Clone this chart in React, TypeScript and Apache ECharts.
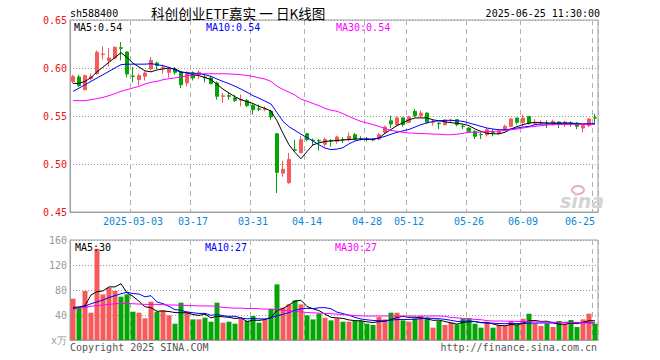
import React, { useEffect, useRef } from "react";
import * as echarts from "echarts";

const dates = [
  "2025-02-17","2025-02-18","2025-02-19","2025-02-20","2025-02-21","2025-02-24","2025-02-25","2025-02-26","2025-02-27","2025-02-28",
  "2025-03-03","2025-03-04","2025-03-05","2025-03-06","2025-03-07","2025-03-10","2025-03-11","2025-03-12","2025-03-13","2025-03-14",
  "2025-03-17","2025-03-18","2025-03-19","2025-03-20","2025-03-21","2025-03-24","2025-03-25","2025-03-26","2025-03-27","2025-03-28",
  "2025-03-31","2025-04-01","2025-04-02","2025-04-03","2025-04-07","2025-04-08","2025-04-09","2025-04-10","2025-04-11",
  "2025-04-14","2025-04-15","2025-04-16","2025-04-17","2025-04-18","2025-04-21","2025-04-22","2025-04-23","2025-04-24","2025-04-25",
  "2025-04-28","2025-04-29","2025-04-30","2025-05-06","2025-05-07","2025-05-08","2025-05-09",
  "2025-05-12","2025-05-13","2025-05-14","2025-05-15","2025-05-16","2025-05-19","2025-05-20","2025-05-21","2025-05-22","2025-05-23",
  "2025-05-26","2025-05-27","2025-05-28","2025-05-29","2025-05-30","2025-06-03","2025-06-04","2025-06-05","2025-06-06",
  "2025-06-09","2025-06-10","2025-06-11","2025-06-12","2025-06-13","2025-06-16","2025-06-17","2025-06-18","2025-06-19","2025-06-20",
  "2025-06-23","2025-06-24","2025-06-25",
];

const tickDates = ["2025-03-03","2025-03-17","2025-03-31","2025-04-14","2025-04-28","2025-05-12","2025-05-26","2025-06-09","2025-06-25"];
const tickLabels = ["2025-03-03","03-17","03-31","04-14","04-28","05-12","05-26","06-09","06-25"];

const open = [
  0.586,0.5906,0.5774,0.589,0.5941,0.614,0.6076,0.6104,0.6212,0.6167,
  0.5916,0.5878,0.5913,0.599,0.6052,0.6005,0.5955,0.599,0.5955,0.5844,
  0.5948,0.593,0.5906,0.5896,0.5844,0.5705,0.5712,0.5688,0.5665,0.566,
  0.5611,0.5575,0.557,0.5549,0.5316,0.4905,0.4805,0.5148,0.5118,0.5316,
  0.5248,0.5243,0.5205,0.5245,0.5236,0.5255,0.5253,0.5305,0.5262,0.5262,
  0.5255,0.526,0.533,0.5451,0.541,0.548,0.5434,0.5548,0.5503,0.553,
  0.5432,0.5425,0.541,0.5452,0.5462,0.5394,0.5375,0.534,0.5307,0.5305,
  0.5331,0.5316,0.5357,0.5392,0.5479,0.5434,0.5496,0.542,0.5427,0.5428,
  0.541,0.5437,0.541,0.5427,0.5427,0.5375,0.54,0.5481,
];
const close = [
  0.591,0.5816,0.592,0.591,0.6163,0.6146,0.6104,0.6215,0.6205,0.5938,
  0.5913,0.592,0.5948,0.608,0.6024,0.601,0.599,0.5955,0.5826,0.594,
  0.5896,0.5955,0.59,0.5837,0.5705,0.571,0.5705,0.5663,0.567,0.5608,
  0.5566,0.557,0.5575,0.549,0.4913,0.4945,0.5048,0.5144,0.5253,0.5253,
  0.5244,0.524,0.5256,0.524,0.5281,0.5252,0.5288,0.526,0.526,0.5258,
  0.525,0.5305,0.5385,0.5416,0.548,0.541,0.549,0.5503,0.553,0.5434,
  0.5436,0.542,0.5455,0.5456,0.541,0.539,0.534,0.5288,0.5305,0.5357,
  0.5329,0.534,0.5392,0.5468,0.5434,0.5479,0.5427,0.5424,0.543,0.5425,
  0.5444,0.5416,0.5437,0.5424,0.5392,0.54,0.5468,0.5478,
];
const low = [
  0.584,0.58,0.5767,0.587,0.5931,0.6087,0.6015,0.609,0.608,0.5903,
  0.585,0.582,0.587,0.5976,0.599,0.594,0.59,0.593,0.579,0.581,
  0.587,0.5885,0.585,0.583,0.567,0.5635,0.567,0.5646,0.56,0.5594,
  0.5514,0.555,0.555,0.546,0.4698,0.4868,0.4795,0.5136,0.5111,0.5236,
  0.5187,0.5142,0.518,0.518,0.5211,0.5218,0.5236,0.5246,0.5246,0.5236,
  0.5236,0.5246,0.5316,0.5375,0.5392,0.539,0.5427,0.549,0.549,0.5427,
  0.54,0.5364,0.54,0.5427,0.5392,0.5364,0.5323,0.526,0.526,0.5288,
  0.5288,0.5305,0.534,0.5385,0.541,0.5392,0.541,0.5406,0.5413,0.5375,
  0.54,0.5375,0.5385,0.539,0.5364,0.533,0.5385,0.5427,
];
const high = [
  0.593,0.593,0.5931,0.594,0.6184,0.6226,0.6208,0.6226,0.627,0.6173,
  0.601,0.594,0.5965,0.6115,0.6066,0.6035,0.601,0.601,0.5965,0.5965,
  0.5965,0.5976,0.593,0.5913,0.586,0.574,0.5747,0.572,0.5726,0.5677,
  0.5629,0.5618,0.56,0.5566,0.5316,0.5032,0.5116,0.5253,0.5291,0.532,
  0.5265,0.526,0.5275,0.526,0.5295,0.528,0.533,0.5323,0.5288,0.5281,
  0.5271,0.5323,0.54,0.5503,0.5496,0.549,0.5503,0.5573,0.5559,0.5538,
  0.5462,0.5434,0.5469,0.547,0.5469,0.541,0.5385,0.535,0.533,0.5375,
  0.5364,0.5357,0.541,0.5479,0.548,0.5514,0.5496,0.5468,0.5455,0.5455,
  0.5462,0.5444,0.545,0.5444,0.5434,0.541,0.5479,0.5524,
];

const ma5 = [
  0.584,0.584,0.586,0.59,0.596,0.601,0.606,0.611,0.616,0.611,
  0.605,0.601,0.597,0.596,0.598,0.599,0.6,0.599,0.596,0.595,
  0.593,0.592,0.59,0.588,0.583,0.578,0.574,0.57,0.567,0.565,
  0.563,0.56,0.558,0.555,0.545,0.532,0.52,0.512,0.5055,0.513,
  0.52,0.522,0.5235,0.524,0.5245,0.525,0.5255,0.526,0.526,0.526,
  0.526,0.527,0.532,0.536,0.54,0.543,0.546,0.548,0.548,0.548,
  0.546,0.545,0.544,0.543,0.5425,0.5415,0.54,0.5365,0.534,0.532,
  0.5315,0.5315,0.533,0.5365,0.539,0.541,0.5425,0.5435,0.543,0.5427,
  0.5427,0.5427,0.5427,0.5427,0.542,0.5415,0.5415,0.542,
];
const ma10 = [
  0.5757,0.579,0.5826,0.586,0.5896,0.593,0.5965,0.6,0.6035,0.604,
  0.604,0.604,0.604,0.6045,0.6035,0.6024,0.6007,0.598,0.5955,0.595,
  0.5948,0.594,0.593,0.5913,0.5885,0.586,0.5837,0.581,0.578,0.5747,
  0.5712,0.5685,0.5655,0.5625,0.5535,0.5444,0.5388,0.535,0.531,0.5275,
  0.524,0.52,0.5166,0.515,0.5155,0.517,0.521,0.524,0.5255,0.5255,
  0.5255,0.527,0.5288,0.531,0.533,0.5345,0.536,0.5385,0.541,0.5427,
  0.5444,0.545,0.5455,0.5455,0.545,0.5444,0.5427,0.541,0.5392,0.5375,
  0.5364,0.5357,0.5357,0.5364,0.5375,0.5385,0.5392,0.541,0.5416,0.5416,
  0.542,0.542,0.542,0.542,0.5418,0.5418,0.542,0.542,
];
const ma30 = [
  0.566,0.566,0.566,0.567,0.568,0.5694,0.5712,0.5733,0.5757,0.5774,
  0.5792,0.5809,0.5833,0.5851,0.5861,0.5878,0.5889,0.5896,0.5906,0.592,
  0.5927,0.5938,0.594,0.594,0.594,0.594,0.5938,0.5935,0.593,0.5922,
  0.5912,0.5898,0.5885,0.586,0.581,0.5776,0.5748,0.5718,0.5675,0.5655,
  0.563,0.5608,0.558,0.556,0.5549,0.5524,0.5496,0.5468,0.5444,0.5427,
  0.541,0.5392,0.5368,0.535,0.534,0.533,0.5323,0.532,0.5318,0.5315,
  0.5312,0.531,0.5305,0.5305,0.531,0.532,0.533,0.533,0.5333,0.5336,
  0.534,0.5343,0.535,0.5357,0.5364,0.5375,0.5385,0.5392,0.5399,0.5406,
  0.541,0.5412,0.5413,0.5413,0.5413,0.5413,0.5413,0.5413,
];

const volume = [
  66.1,51.7,78.4,43.7,146,73,83.7,78.4,69.3,73,
  45.3,43.7,34.6,61.3,45.3,47.4,39.4,26.1,59.7,45.3,
  33,33,35.7,29.3,59.7,27.7,29.3,26.1,34.6,30.4,
  38.4,27.7,33,50.1,89,51.7,57,63.4,57,39.4,
  33,42.1,35.7,31.4,34.6,29.3,29.3,30.4,30.4,26.1,
  24,36.8,33,43.7,43.7,31.4,29.3,34.6,38.4,35.7,
  19.7,30.4,24,27.7,25,34,34.6,26.1,19.7,27.7,
  19.7,24,22.4,30.4,24,34,42.1,26.1,22.4,26.1,
  20.8,30.4,26.1,32,20.8,33,42.1,26.1,
];
const vma5 = [
  52,53,55,72,77.2,78.6,85,85,90.1,75.5,
  69.9,61.9,53.2,51.6,46,46.5,45.6,43.9,43.6,43.6,
  40.7,39.4,41.3,35.3,38.1,37.1,36.3,34.4,35.5,29.6,
  31.8,31.4,32.8,35.9,47.6,50.3,56.2,62.2,63.6,53.7,
  50,47,41.4,36.3,35.4,34.6,32.1,31,30.8,29.1,
  28,29.5,30.1,32.7,36.2,37.7,36.2,36.5,35.5,33.9,
  31.5,31.8,29.6,27.5,25.4,28.2,29.1,29.5,27.9,28.4,
  25.6,23.4,22.7,24.8,24.1,27,30.6,31.3,29.7,30.1,
  27.5,25.2,25.2,27.1,26,28.5,30.8,30.8,
];
const vma10 = [
  50,52,54,58,61,64,68,71,74,76.4,
  74.3,73.5,69.1,70.9,60.8,58.2,53.8,48.6,47.6,44.8,
  43.6,42.5,42.6,39.5,40.9,38.9,37.9,37.9,35.4,33.9,
  34.5,33.9,33.6,35.7,38.6,41.1,43.8,47.5,49.8,50.7,
  50.2,51.6,51.8,50,44.6,42.3,39.6,36.2,33.6,32.3,
  31.3,30.8,30.6,31.8,32.7,32.9,32.9,33.3,34.1,35.1,
  34.6,34,33.1,31.5,29.7,29.9,30.5,29.6,27.7,26.9,
  26.9,26.3,26.1,26.4,26.3,26.3,27,27,27.3,27.1,
  27.3,27.9,28.3,28.4,28.1,27.8,27.6,27.5,
];
const vma30 = [
  49,51,52,54,55,56,57,58,58.5,58.5,
  58,57.5,57,57,57,56.5,56,56,55.5,55,
  55,54.5,54.5,54.5,54,52,51.5,51,51,50.5,
  50.5,50,49.5,49,48.5,47.5,46.5,46,45,44,
  43.5,43,42.5,42,41.5,40.5,40,39,38.5,38.4,
  38.4,38.4,38.4,38.4,38.4,38.4,38.4,38.4,38.4,38.4,
  38.4,38.4,38,36,35.5,34.6,34,33,32.5,31,
  30.4,30.4,30.2,30,29.8,29.5,29.3,29,28.8,28.6,
  28.5,28.2,27.9,27.7,27.6,27.5,27.5,27.5,
];

const RED = "#f65a5a";
const GREEN = "#06a506";
const MONO = '"DejaVu Sans Mono", "Liberation Mono", monospace';
const GRID_GRAY = "#a0a0a0";

export default function App() {
  const ref = useRef<HTMLDivElement>(null);

  useEffect(() => {
    const chart = echarts.init(ref.current!, null, { renderer: "svg" });
    const tickIdx = new Set(tickDates.map((d) => dates.indexOf(d)));
    const labelOf: Record<string, string> = {};
    tickDates.forEach((d, k) => (labelOf[d] = tickLabels[k]));

    const candles = dates.map((_, i) => [open[i], close[i], low[i], high[i]]);
    const volData = volume.map((v, i) => ({
      value: v,
      itemStyle: { color: close[i] >= open[i] ? RED : GREEN },
    }));

    const xBase = (gridIndex: number, showLabel: boolean) => ({
      type: "category",
      gridIndex,
      data: dates,
      boundaryGap: true,
      axisLine: { show: true, lineStyle: { color: GRID_GRAY } },
      axisTick: { show: false },
      axisLabel: showLabel
        ? {
            interval: (i: number) => tickIdx.has(i),
            formatter: (v: string) => labelOf[v] ?? "",
            color: "#0a87d4",
            fontFamily: MONO,
            fontSize: 10,
            margin: 4,
            alignMaxLabel: "right",
          }
        : { show: false },
      splitLine: {
        show: true,
        interval: (i: number) => tickIdx.has(i),
        lineStyle: { color: "#b0b0b0", type: [5, 4], width: 1 },
      },
    });

    const text = (x: number, y: number, t: string, fill: string, opts: any = {}) => ({
      type: "text",
      x,
      y,
      z: 100,
      silent: true,
      style: {
        text: t,
        fill,
        font: opts.font ?? `10px ${MONO}`,
        align: opts.align ?? "left",
        verticalAlign: "middle",
      },
    });

    chart.setOption({
      animation: false,
      backgroundColor: "#ffffff",
      grid: [
        { left: 70, top: 20, width: 528, height: 192, show: true, borderColor: GRID_GRAY, borderWidth: 1 },
        { left: 70, top: 240, width: 528, height: 100, show: true, borderColor: GRID_GRAY, borderWidth: 1 },
      ],
      xAxis: [xBase(0, true), xBase(1, false)],
      yAxis: [
        {
          type: "value",
          gridIndex: 0,
          min: 0.45,
          max: 0.65,
          interval: 0.05,
          axisLine: { show: true, lineStyle: { color: GRID_GRAY } },
          axisTick: { show: false },
          axisLabel: {
            color: "#ee1111",
            fontFamily: MONO,
            fontSize: 10,
            margin: 3,
            formatter: (v: number) => v.toFixed(2),
          },
          splitLine: { show: true, lineStyle: { color: "#999999", type: [1, 2] } },
        },
        {
          type: "value",
          gridIndex: 1,
          min: 0,
          max: 160,
          interval: 40,
          axisLine: { show: true, lineStyle: { color: GRID_GRAY } },
          axisTick: { show: false },
          axisLabel: {
            color: "#999999",
            fontFamily: MONO,
            fontSize: 10,
            margin: 3,
            formatter: (v: number) => (v === 0 ? "x万" : String(v)),
          },
          splitLine: { show: true, lineStyle: { color: "#999999", type: [1, 2] } },
        },
      ],
      series: [
        {
          type: "candlestick",
          xAxisIndex: 0,
          yAxisIndex: 0,
          data: candles,
          barWidth: 4,
          itemStyle: {
            color: RED,
            color0: GREEN,
            borderColor: RED,
            borderColor0: GREEN,
            borderWidth: 1,
          },
        },
        { type: "line", xAxisIndex: 0, yAxisIndex: 0, data: ma5, symbol: "none", lineStyle: { color: "#000000", width: 1 }, z: 5 },
        { type: "line", xAxisIndex: 0, yAxisIndex: 0, data: ma10, symbol: "none", lineStyle: { color: "#0000ff", width: 1 }, z: 5 },
        { type: "line", xAxisIndex: 0, yAxisIndex: 0, data: ma30, symbol: "none", lineStyle: { color: "#ff00ff", width: 1 }, z: 5 },
        { type: "bar", xAxisIndex: 1, yAxisIndex: 1, data: volData, barWidth: 5 },
        { type: "line", xAxisIndex: 1, yAxisIndex: 1, data: vma5, symbol: "none", lineStyle: { color: "#000000", width: 1 }, z: 5 },
        { type: "line", xAxisIndex: 1, yAxisIndex: 1, data: vma10, symbol: "none", lineStyle: { color: "#0000ff", width: 1 }, z: 5 },
        { type: "line", xAxisIndex: 1, yAxisIndex: 1, data: vma30, symbol: "none", lineStyle: { color: "#ff00ff", width: 1 }, z: 5 },
      ],
      graphic: [
        text(70, 13, "sh588400", "#000000"),
        text(151, 13, "科创创业ETF嘉实 一 日K线图", "#000000", { font: '13.6px "Noto Sans CJK SC", sans-serif' }),
        text(600, 13, "2025-06-25 11:30:00", "#000000", { align: "right" }),
        text(74, 27, "MA5:0.54", "#000000"),
        text(206, 27, "MA10:0.54", "#0000ff"),
        text(336, 27, "MA30:0.54", "#ff00ff"),
        text(75, 247, "MA5:30", "#000000"),
        text(205, 247, "MA10:27", "#0000ff"),
        text(335, 247, "MA30:27", "#ff00ff"),
        text(70, 347, "Copyright 2025 SINA.COM", "#555555"),
        text(597, 347, "http://finance.sina.com.cn", "#555555", { align: "right" }),
        {
          type: "ellipse",
          z: 99,
          silent: true,
          shape: { cx: 578, cy: 190, rx: 6, ry: 4 },
          style: { fill: "none", stroke: "#eab0b0", lineWidth: 2 },
        },
        text(582, 201, "sina", "#d4d4d4", { font: 'italic bold 19px "DejaVu Sans", sans-serif', align: "center" }),
      ],
    });

    return () => chart.dispose();
  }, []);

  return (
    <div
      ref={ref}
      style={{ position: "absolute", left: 0, top: 0, width: 660, height: 360 }}
    />
  );
}
